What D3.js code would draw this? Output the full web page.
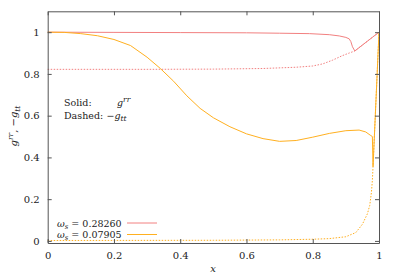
<!DOCTYPE html>
<html>
<head>
<meta charset="utf-8">
<script src="https://cdn.jsdelivr.net/npm/d3@7"></script>
<style>
  body { margin: 0; background: #fff; }
</style>
</head>
<body>
<svg id="chart"></svg>
<script>
const WIDTH = 399
const HEIGHT = 279
const FONT = "'DejaVu Serif', 'Liberation Serif', 'Noto Serif', serif"

// omega_s = 0.28260 (red)
const redSolidX = [0, 0.2, 0.4, 0.6, 0.7, 0.79, 0.85, 0.88, 0.9, 0.91, 0.915, 0.92, 0.927, 1.0]
const redSolidY = [1.0, 0.999, 0.998, 0.997, 0.995, 0.993, 0.988, 0.982, 0.975, 0.968, 0.955, 0.93, 0.91, 1.0]
const redDashX = [0, 0.3, 0.5, 0.65, 0.75, 0.8, 0.83, 0.86, 0.89, 0.91, 0.927, 1.0]
const redDashY = [0.822, 0.822, 0.823, 0.826, 0.832, 0.838, 0.848, 0.866, 0.888, 0.9, 0.91, 1.0]

// omega_s = 0.07905 (orange)
const orSolidX = [0, 0.05, 0.1, 0.15, 0.2, 0.25, 0.3, 0.34, 0.38, 0.42, 0.46, 0.5, 0.55, 0.6, 0.65, 0.7, 0.75, 0.8, 0.85, 0.9, 0.94, 0.96, 0.975, 0.98, 0.982, 1.0]
const orSolidY = [1.0, 0.999, 0.993, 0.983, 0.965, 0.936, 0.88, 0.826, 0.765, 0.695, 0.635, 0.59, 0.547, 0.513, 0.49, 0.477, 0.481, 0.497, 0.515, 0.528, 0.531, 0.522, 0.505, 0.5, 0.356, 1.0]
const orDashX = [0, 0.5, 0.7, 0.8, 0.85, 0.9, 0.93, 0.95, 0.965, 0.972, 0.977, 0.98, 0.982, 1.0]
const orDashY = [0.002, 0.003, 0.005, 0.008, 0.011, 0.02, 0.04, 0.08, 0.13, 0.17, 0.23, 0.29, 0.356, 1.0]

const xTicks = [0, 0.2, 0.4, 0.6, 0.8, 1]
const yTicks = [0, 0.2, 0.4, 0.6, 0.8, 1]
const legendLabels = ['0.28260', '0.07905']
const colors = ['#f28080', '#ffb020']

const svg = d3.select('#chart').attr('width', WIDTH).attr('height', HEIGHT)
    .style('font-family', FONT)

const x = d3.scaleLinear().domain([0, 1]).range([47.7, 379])
const y = d3.scaleLinear().domain([-0.01, 1.1]).range([243, 11.3])

const zip = (xs, ys) => xs.map((d, i) => [d, ys[i]])
const line = d3.line().x(d => x(d[0])).y(d => y(d[1]))

const series = [
    { pts: zip(redDashX, redDashY), color: colors[0], dash: '1.5,1.5' },
    { pts: zip(orDashX, orDashY), color: colors[1], dash: '1.5,1.5' },
    { pts: zip(redSolidX, redSolidY), color: colors[0], dash: null },
    { pts: zip(orSolidX, orSolidY), color: colors[1], dash: null }
]

svg.selectAll('path.series')
    .data(series)
    .join('path')
    .attr('class', 'series')
    .attr('d', d => line(d.pts))
    .attr('fill', 'none')
    .attr('stroke', d => d.color)
    .attr('stroke-width', 1)
    .attr('stroke-linejoin', 'round')
    .attr('stroke-dasharray', d => d.dash)

// axes, ticks inward and mirrored
const tickLen = 4
const axBottom = svg.append('g').attr('transform', `translate(0, ${y.range()[0]})`)
    .call(d3.axisBottom(x).tickValues(xTicks).tickSizeInner(-tickLen).tickSizeOuter(0).tickPadding(9).tickFormat(d3.format('')))
const axTop = svg.append('g').attr('transform', `translate(0, ${y.range()[1]})`)
    .call(d3.axisTop(x).tickValues(xTicks).tickSizeInner(-tickLen).tickSizeOuter(0).tickFormat(''))
const axLeft = svg.append('g').attr('transform', `translate(${x.range()[0]}, 0)`)
    .call(d3.axisLeft(y).tickValues(yTicks).tickSizeInner(-tickLen).tickSizeOuter(0).tickPadding(8).tickFormat(d3.format('')))
const axRight = svg.append('g').attr('transform', `translate(${x.range()[1]}, 0)`)
    .call(d3.axisRight(y).tickValues(yTicks).tickSizeInner(-tickLen).tickSizeOuter(0).tickFormat(''))

;[axBottom, axTop, axLeft, axRight].forEach(g => {
    g.attr('font-family', null)
    g.select('.domain').attr('stroke', '#555')
    g.selectAll('.tick line').attr('stroke', '#555')
    g.selectAll('.tick text').style('font-family', FONT).attr('font-size', 10).attr('fill', '#222')
})

const addText = (xp, yp, size = 9.5) => svg.append('text')
    .attr('x', xp).attr('y', yp)
    .attr('font-size', size)
    .attr('fill', '#222')
    .style('font-family', FONT)

// axis titles
addText(213, 272, 10).attr('text-anchor', 'middle').attr('font-style', 'italic').text('x')

const ylab = addText(0, 0, 10)
    .attr('transform', 'translate(17, 126) rotate(-90)')
    .attr('text-anchor', 'middle')
ylab.append('tspan').attr('font-style', 'italic').text('g')
ylab.append('tspan').attr('font-style', 'italic').attr('font-size', 7.5).attr('dy', -4).text('rr')
ylab.append('tspan').attr('dy', 4).text(', −')
ylab.append('tspan').attr('font-style', 'italic').text('g')
ylab.append('tspan').attr('font-style', 'italic').attr('font-size', 7.5).attr('dy', 2.5).text('tt')

// annotation
addText(64, 106).text('Solid:')
const a1 = addText(117, 106)
a1.append('tspan').attr('font-style', 'italic').text('g')
a1.append('tspan').attr('font-style', 'italic').attr('font-size', 7.5).attr('dy', -4).text('rr')
addText(64, 118.5).text('Dashed:')
const a2 = addText(106.5, 118.5)
a2.append('tspan').text('−')
a2.append('tspan').attr('font-style', 'italic').text('g')
a2.append('tspan').attr('font-style', 'italic').attr('font-size', 7.5).attr('dy', 2.5).text('tt')

// legend
const legend = svg.selectAll('g.legend')
    .data(legendLabels)
    .join('g')
    .attr('class', 'legend')
    .attr('transform', (d, i) => `translate(0, ${223 + i * 11.5})`)

legend.each(function (d, i) {
    const g = d3.select(this)
    const t = g.append('text').attr('x', 57).attr('y', 3.5).attr('font-size', 9.5)
        .attr('fill', '#222').style('font-family', FONT)
    t.append('tspan').attr('font-style', 'italic').text('ω')
    t.append('tspan').attr('font-style', 'italic').attr('font-size', 7).attr('dy', 2).text('s')
    t.append('tspan').attr('dy', -2).text(' = ' + d)
    g.append('line')
        .attr('x1', 127).attr('x2', 157)
        .attr('y1', 0).attr('y2', 0)
        .attr('stroke', colors[i])
        .attr('stroke-width', 1)
})
</script>
</body>
</html>
